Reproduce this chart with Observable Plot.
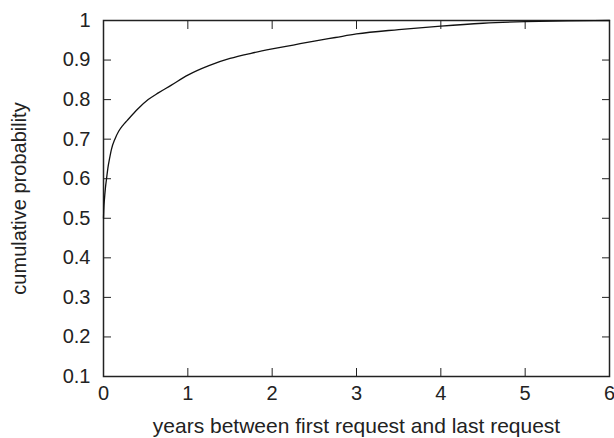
<!DOCTYPE html>
<html>
<head>
<meta charset="utf-8">
<script src="https://cdn.jsdelivr.net/npm/d3@7"></script>
<script src="https://cdn.jsdelivr.net/npm/@observablehq/plot@0.6"></script>
<style>
  html, body { margin: 0; padding: 0; background: #fff; }
  svg { display: block; }
</style>
</head>
<body>
<div id="chart"></div>
<script>
const years = [0, 0.003, 0.012, 0.022, 0.036, 0.052, 0.071, 0.095, 0.135, 0.18, 0.23, 0.28, 0.4, 0.53, 0.65, 0.8, 1, 1.25, 1.5, 1.75, 2, 2.25, 2.5, 2.75, 3, 3.5, 4, 4.5, 5, 5.5, 6];
const probability = [0.5, 0.52, 0.55, 0.575, 0.6, 0.627, 0.65, 0.675, 0.7, 0.72, 0.735, 0.747, 0.775, 0.8, 0.817, 0.836, 0.862, 0.886, 0.904, 0.917, 0.928, 0.938, 0.948, 0.957, 0.966, 0.977, 0.986, 0.993, 0.997, 0.999, 1.0];
const xTicks = [0, 1, 2, 3, 4, 5, 6];
const yTicks = [0.1, 0.2, 0.3, 0.4, 0.5, 0.6, 0.7, 0.8, 0.9, 1];
const yTickLabels = ["0.1", "0.2", "0.3", "0.4", "0.5", "0.6", "0.7", "0.8", "0.9", "1"];
const xLabel = "years between first request and last request";
const yLabel = "cumulative probability";

const data = years.map((x, i) => ({x, y: probability[i]}));
const fs = 20;

const chart = Plot.plot({
  width: 614,
  height: 438,
  marginLeft: 103,
  marginRight: 5,
  marginTop: 20,
  marginBottom: 62,
  style: {fontFamily: "'Liberation Sans', Arial, sans-serif", fontSize: "20px", color: "#222", background: "#fff", overflow: "visible"},
  x: {domain: [0, 6]},
  y: {domain: [0.1, 1]},
  marks: [
    Plot.axisX(xTicks, {anchor: "bottom", tickSize: 0, tickPadding: 9, fontSize: fs, tickFormat: d => String(d), label: null}),
    Plot.axisX(xTicks, {anchor: "bottom", tickSize: 0, fontSize: 21, tickFormat: () => "", label: xLabel, labelAnchor: "center", labelArrow: "none", labelOffset: 56}),
    Plot.axisX(xTicks, {anchor: "bottom", tickSize: -8, tickFormat: () => "", label: null}),
    Plot.axisX(xTicks, {anchor: "top", tickSize: -8, tickFormat: () => "", label: null}),
    Plot.axisY(yTicks, {anchor: "left", tickSize: 0, tickPadding: 13, fontSize: fs, tickFormat: (d, i) => yTickLabels[i], label: yLabel, labelAnchor: "center", labelArrow: "none", labelOffset: 92}),
    Plot.axisY(yTicks, {anchor: "left", tickSize: -8, tickFormat: () => "", label: null}),
    Plot.axisY(yTicks, {anchor: "right", tickSize: -8, tickFormat: () => "", label: null}),
    Plot.frame({stroke: "#222", strokeWidth: 1.5}),
    Plot.line(data, {x: "x", y: "y", stroke: "#111", strokeWidth: 1.3, curve: "monotone-x"})
  ]
});
document.getElementById("chart").appendChild(chart);
</script>
</body>
</html>
